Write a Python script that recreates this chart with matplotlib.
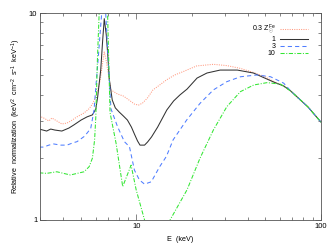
import matplotlib
matplotlib.use("Agg")
import matplotlib.pyplot as plt
from matplotlib.ticker import LogLocator, NullFormatter, FixedLocator, FixedFormatter

plt.rcParams['font.family'] = ['Liberation Sans', 'DejaVu Sans']
plt.rcParams['mathtext.fontset'] = 'custom'
plt.rcParams['mathtext.rm'] = 'Liberation Sans'
plt.rcParams['mathtext.it'] = 'Liberation Sans'

# ---- data ----
labels = [r'0.3 Z$_{\odot}^{\rm Fe}$', '1', '3', '10']

E_03 = [2.97, 3.14, 3.35, 3.48, 3.70, 3.94, 4.20, 4.41, 4.76, 5.20, 5.54, 5.82, 6.14, 6.36,
        6.52, 6.69, 6.81, 6.97, 7.27, 7.90, 8.49, 8.96, 9.75, 10.25, 10.78, 11.48, 12.28,
        13.36, 14.53, 16.13, 17.9, 21.2, 26.1, 30.9, 36.6, 43.0, 50.1, 56.8, 62.8, 68.5,
        84.9, 100.0]
N_03 = [3.18, 3.11, 3.01, 3.11, 3.01, 2.91, 2.94, 3.01, 3.15, 3.29, 3.45, 3.67, 4.15, 4.75,
        5.55, 6.48, 6.06, 5.36, 4.25, 4.06, 3.97, 3.84, 3.63, 3.59, 3.67, 3.89, 4.25,
        4.49, 4.75, 5.02, 5.21, 5.55, 5.65, 5.57, 5.40, 5.16, 4.91, 4.62, 4.44, 4.20,
        3.52, 2.97]

E_1 = [2.97, 3.26, 3.43, 3.61, 3.94, 4.30, 4.58, 5.01, 5.40, 5.77, 6.02, 6.16, 6.40, 6.56,
       6.69, 6.86, 6.99, 7.12, 7.39, 7.68, 8.07, 8.49, 8.93, 9.39, 9.75, 10.13, 10.45,
       11.06, 11.48, 12.07, 13.02, 14.6, 15.9, 17.2, 18.8, 21.3, 24.1, 28.4, 35.2, 43.0,
       55.4, 62.8, 68.5, 84.9, 100.0]
N_1 = [2.75, 2.69, 2.75, 2.72, 2.69, 2.78, 2.88, 3.04, 3.15, 3.22, 3.44, 3.93, 5.30, 7.41,
       9.39, 7.83, 6.27, 4.80, 3.80, 3.48, 3.32, 3.18, 3.04, 2.81, 2.60, 2.41, 2.30,
       2.30, 2.38, 2.52, 2.81, 3.40, 3.76, 4.02, 4.29, 4.85, 5.13, 5.30, 5.30, 5.13,
       4.64, 4.44, 4.20, 3.52, 2.97]

E_3 = [2.97, 3.14, 3.35, 3.56, 3.89, 4.20, 4.53, 4.76, 5.20, 5.40, 5.65, 5.89, 6.04, 6.20,
       6.36, 6.48, 6.64, 6.81, 6.94, 7.07, 7.27, 7.42, 7.90, 8.60, 9.16, 9.75, 10.38,
       11.06, 12.03, 13.36, 14.53, 15.8, 18.7, 22.1, 26.1, 30.9, 36.6, 45.1, 53.3, 62.8,
       68.5, 84.9, 100.0]
N_3 = [2.25, 2.25, 2.30, 2.33, 2.30, 2.30, 2.36, 2.39, 2.53, 2.63, 2.77, 3.40, 4.53, 6.0,
       8.1, 10.0, 13.5, 10.0, 7.36, 5.41, 3.45, 3.28, 2.82, 2.39, 2.26, 1.74, 1.56,
       1.49, 1.53, 1.81, 2.03, 2.44, 3.04, 3.66, 4.25, 4.66, 4.92, 5.02, 4.92, 4.58,
       4.20, 3.52, 2.97]

E_10 = [2.97, 3.26, 3.70, 4.38, 5.20, 5.54, 5.77, 5.93, 6.02, 6.14, 6.28, 6.64, 6.97, 7.07,
        7.19, 7.75, 8.42, 9.35, 9.96, 11.06, 12.2, 13.2, 14.2, 15.2, 18.8, 22.1, 26.1,
        30.9, 36.6, 43.2, 51.1, 60.4, 68.5, 84.9, 100.0]
N_10 = [1.69, 1.68, 1.71, 1.65, 1.71, 1.81, 1.99, 2.44, 3.15, 5.93, 10.1, 25.0, 10.1, 6.0,
        3.3, 2.35, 1.45, 1.84, 1.40, 1.00, 0.75, 0.68, 0.80, 1.00, 1.40, 1.99, 2.72,
        3.53, 4.17, 4.49, 4.61, 4.53, 4.20, 3.52, 2.97]

x_ticks = [10, 100]
x_ticklabels = ['10', '100']
y_ticks = [1, 10]
y_ticklabels = ['1', '10']

# ---- figure ----
fig = plt.figure(figsize=(3.34, 2.46), dpi=100)
ax = fig.add_axes([40/334, 26/246, 281/334, 207/246])

lw = 0.75
ax.plot(E_03, N_03, color='#ff9a80', ls=(0, (1, 1.2)), lw=lw, label=labels[0])
ax.plot(E_1, N_1, color='#333333', ls='-', lw=lw, label=labels[1])
ax.plot(E_3, N_3, color='#4f7dff', ls=(0, (4, 3)), lw=lw, label=labels[2])
ax.plot(E_10, N_10, color='#33e633', ls=(0, (4, 1.5, 1, 1.5)), lw=lw, label=labels[3])

ax.set_xscale('log')
ax.set_yscale('log')
ax.set_xlim(3, 100)
ax.set_ylim(1, 10)

ax.xaxis.set_major_locator(FixedLocator(x_ticks))
ax.xaxis.set_major_formatter(FixedFormatter(x_ticklabels))
ax.xaxis.set_minor_locator(LogLocator(base=10, subs=range(2, 10)))
ax.xaxis.set_minor_formatter(NullFormatter())
ax.yaxis.set_major_locator(FixedLocator(y_ticks))
ax.yaxis.set_major_formatter(FixedFormatter(y_ticklabels))
ax.yaxis.set_minor_locator(LogLocator(base=10, subs=range(2, 10)))
ax.yaxis.set_minor_formatter(NullFormatter())

ax.tick_params(which='both', direction='in', top=True, right=True, labelsize=5.5,
               width=0.5, color='#555555', pad=2)
ax.tick_params(which='major', length=4.5)
ax.tick_params(which='minor', length=2.2)
for s in ax.spines.values():
    s.set_linewidth(0.6)
    s.set_color('#555555')

ax.set_xlabel('E  (keV)', fontsize=5.2)
ax.xaxis.set_label_coords(0.5, -0.075)
ax.set_ylabel(r'Relative  normalization  (keV$^{2}$  cm$^{-2}$  s$^{-1}$  keV$^{-1}$)', fontsize=5.2)
ax.yaxis.set_label_coords(-0.06, 0.5)

leg = ax.legend(loc='upper right', bbox_to_anchor=(0.952, 0.955), frameon=False,
                markerfirst=False, fontsize=5, handlelength=4.0, handletextpad=0.6,
                labelspacing=0.0, borderpad=0, borderaxespad=0, handleheight=0.5)

fig.savefig('out.png', dpi=100)
